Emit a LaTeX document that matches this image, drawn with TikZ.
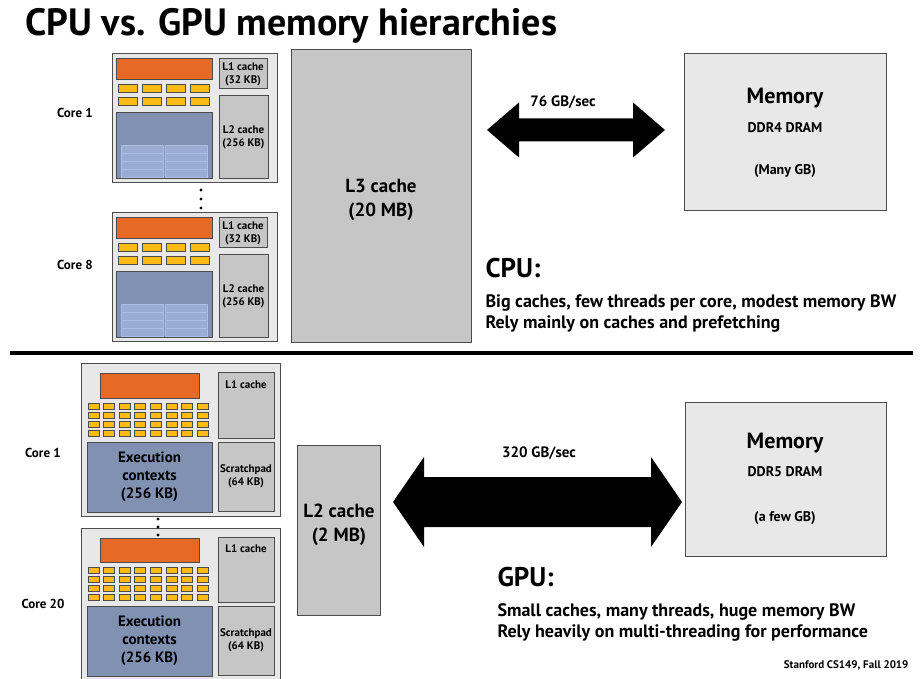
\documentclass[tikz,border=0pt]{standalone}
\usepackage{fontspec}
\setmainfont{PT Sans}
\usetikzlibrary{calc,arrows}
\definecolor{corebg}{RGB}{232,232,232}
\definecolor{cachegray}{RGB}{198,198,198}
\definecolor{fetch}{RGB}{230,106,38}
\definecolor{alu}{RGB}{254,187,22}
\definecolor{ctx}{RGB}{128,145,178}
\definecolor{ctxline}{RGB}{170,190,230}
\tikzset{
  box/.style={draw=black!70,line width=1pt},
  cache/.style={box,fill=cachegray},
  lbl/.style={font=\bfseries\fontsize{11}{13}\selectfont,align=center},
}
% CPU core with top-left corner at (#1,#2)
\newcommand{\cpucore}[2]{
  \begin{scope}[shift={(#1,#2)}]
    \draw[box,fill=corebg] (0,0) rectangle (165,129);
    \draw[box,fill=fetch] (4,5) rectangle (100,26);
    \foreach \i in {0,...,3} \foreach \j in {0,1}
      \draw[box,fill=alu] ({6+\i*24},{31+\j*13}) rectangle ({25+\i*24},{39+\j*13});
    \draw[box,fill=ctx] (4,59) rectangle (100,125);
    \foreach \i in {0,1} \foreach \j in {0,...,3}
      \draw[draw=ctxline,fill=ctxline!60!ctx] ({9+\i*44},{91+\j*8}) rectangle ({51+\i*44},{99+\j*8});
    \draw[cache] (107,5) rectangle (155,35);
    \node[lbl] at (131,20) {L1 cache\\(32 KB)};
    \draw[cache] (107,42) rectangle (156,125);
    \node[lbl] at (131.5,83) {L2 cache\\(256 KB)};
  \end{scope}
}
% GPU core with top-left corner at (#1,#2)
\newcommand{\gpucore}[2]{
  \begin{scope}[shift={(#1,#2)}]
    \draw[box,fill=corebg] (0,0) rectangle (199,152);
    \draw[box,fill=fetch] (19,10) rectangle (118,34);
    \foreach \i in {0,...,7} \foreach \j in {0,...,3}
      \draw[box,fill=alu] ({7+\i*15.6},{39+\j*9.2}) rectangle ({18+\i*15.6},{45+\j*9.2});
    \draw[box,fill=ctx] (6,78) rectangle (131,148);
    \node[font=\bfseries\fontsize{15}{18}\selectfont,align=center] at (68.5,113) {Execution\\contexts\\(256 KB)};
    \draw[cache] (137,9) rectangle (193,74);
    \node[lbl,anchor=north] at (165,13) {L1 cache};
    \draw[cache] (137,78) rectangle (193,147);
    \node[lbl] at (165,112) {Scratchpad\\(64 KB)};
  \end{scope}
}
% double arrow from x=#1 to x=#2 about y=#3; half shaft #4, half head #5, head length #6
\newcommand{\bwarrow}[6]{
  \fill (#1,#3) -- ({#1+#6},{#3-#5}) -- ({#1+#6},{#3-#4}) -- ({#2-#6},{#3-#4})
    -- ({#2-#6},{#3-#5}) -- (#2,#3) -- ({#2-#6},{#3+#5}) -- ({#2-#6},{#3+#4})
    -- ({#1+#6},{#3+#4}) -- ({#1+#6},{#3+#5}) -- cycle;
}
\begin{document}
\begin{tikzpicture}[x=1pt,y=-1pt]
\useasboundingbox (0,0) rectangle (922,679);
\node[anchor=west,font=\bfseries\fontsize{38}{40}\selectfont] (title) at (22,26) {CPU vs. GPU memory hierarchies};
% CPU
\cpucore{112}{54}
\cpucore{112}{213}
\node[lbl,font=\bfseries\fontsize{13}{15}\selectfont] (core1) at (75,113) {Core 1};
\node[lbl,font=\bfseries\fontsize{13}{15}\selectfont] (core8) at (75,265) {Core 8};
\foreach \y in {190,199,208} \fill (201,\y) circle (1.6);
\draw[cache] (291,50) rectangle (471,343);
\node[font=\bfseries\fontsize{19}{24}\selectfont,align=center] (l3) at (381,200) {L3 cache\\(20 MB)};
\draw[cache,fill=corebg] (684,54) rectangle (886,211);
\node[font=\bfseries\fontsize{22}{24}\selectfont] (mem1) at (785,98) {Memory};
\node[lbl,font=\bfseries\fontsize{14}{16}\selectfont] (ddr4) at (785,128) {DDR4 DRAM};
\node[lbl,font=\bfseries\fontsize{14}{16}\selectfont] (gb1) at (785,171) {(Many GB)};
\bwarrow{487}{665}{130}{11.5}{27.5}{32}
\node[font=\bfseries\fontsize{15}{18}\selectfont] (bwl1) at (563,102) {76 GB/sec};
\node[anchor=west,font=\bfseries\fontsize{27}{30}\selectfont] (cpu) at (482,268) {CPU:};
\node[anchor=west,font=\bfseries\fontsize{18}{21}\selectfont,align=left] (cpud) at (482,314) {Big caches, few threads per core, modest memory BW\\Rely mainly on caches and prefetching};
\draw[line width=3.5pt] (10,353) -- (913,353);
% GPU
\gpucore{81}{364}
\gpucore{81}{528}
\node[lbl,font=\bfseries\fontsize{13}{15}\selectfont] (gcore1) at (43,453) {Core 1};
\node[lbl,font=\bfseries\fontsize{13}{15}\selectfont] (gcore20) at (43,604) {Core 20};
\foreach \y in {519,527,535} \fill (158,\y) circle (1.6);
\draw[cache] (297,445) rectangle (380,615);
\node[font=\bfseries\fontsize{19}{24}\selectfont,align=center] (l2) at (339,525) {L2 cache\\(2 MB)};
\draw[cache,fill=corebg] (685,402) rectangle (886,556);
\node[font=\bfseries\fontsize{22}{24}\selectfont] (mem2) at (785,443) {Memory};
\node[lbl,font=\bfseries\fontsize{14}{16}\selectfont] (ddr5) at (785,472) {DDR5 DRAM};
\node[lbl,font=\bfseries\fontsize{14}{16}\selectfont] (gb2) at (785,518) {(a few GB)};
\bwarrow{393}{682}{502}{25}{45}{31}
\node[font=\bfseries\fontsize{15}{18}\selectfont] (bwl2) at (539,453) {320 GB/sec};
\node[anchor=west,font=\bfseries\fontsize{27}{30}\selectfont] (gpu) at (494,577) {GPU:};
\node[anchor=west,font=\bfseries\fontsize{18}{21}\selectfont,align=left] (gpud) at (494,622) {Small caches, many threads, huge memory BW\\Rely heavily on multi-threading for performance};
\node[anchor=east,font=\bfseries\fontsize{11}{13}\selectfont] (credit) at (912,665) {Stanford CS149, Fall 2019};
\end{tikzpicture}
\end{document}
